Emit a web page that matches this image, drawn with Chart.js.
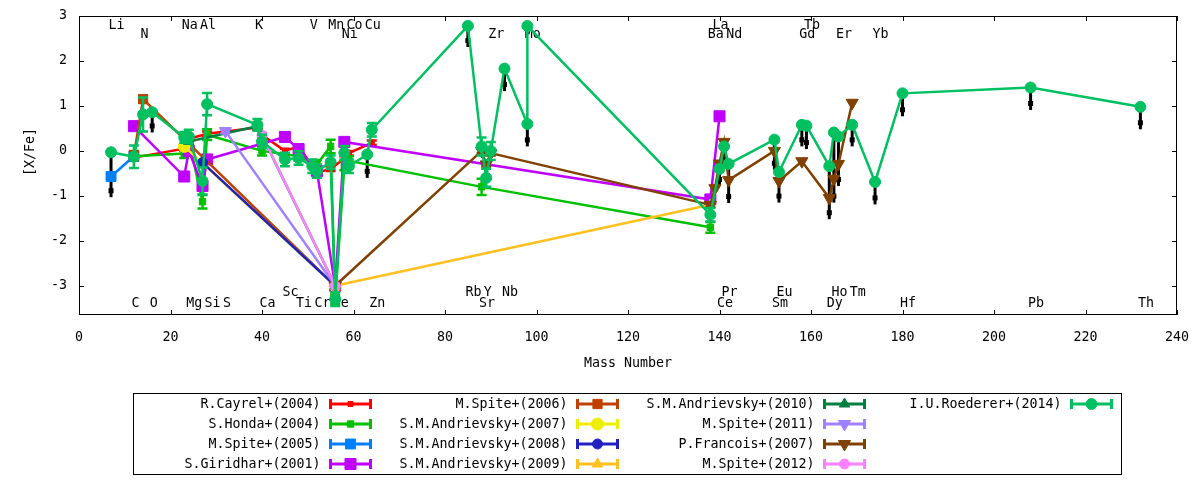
<!DOCTYPE html>
<html><head><meta charset="utf-8">
<script src="https://cdn.jsdelivr.net/npm/chart.js@4.4.1/dist/chart.umd.min.js"></script>
<style>html,body{margin:0;padding:0;background:#fff}canvas{display:block}</style>
</head><body>
<canvas id="c" width="1200" height="480"></canvas>
<script>
// ---------- DATA ----------
const xTicks = [0,20,40,60,80,100,120,140,160,180,200,220,240];
const yTicks = [-3,-2,-1,0,1,2,3];
const elementNames = ['Li','C','N','O','Na','Mg','Al','Si','S','K','Ca','Sc','Ti','V','Cr','Mn','Fe','Ni','Co','Cu','Zn','Rb','Sr','Y','Zr','Nb','Mo','Ba','La','Ce','Pr','Nd','Sm','Eu','Gd','Tb','Dy','Ho','Er','Tm','Yb','Hf','Pb','Th'];
const elementMass  = [7,12,14,16,23,24,27,28,32,39,40,45,48,51,52,55,56,58,59,63,64,85,88,89,90,93,98,138,139,140,141,142,152,153,158,159,164,165,166,169,174,180,208,232];

// each point: [mass number, [X/Fe], error]
const cayrel2004 = [[12,-0.15,0.05],[23,0.05,0.05],[24,0.27,0.05],[28,0.38,0.05],[39,0.52,0.05],[40,0.35,0.05],[45,0.0,0.05],[48,0.1,0.05],[52,-0.48,0.05],[55,-0.4,0.05],[58,-0.17,0.05],[59,-0.05,0.05],[64,0.18,0.05]];
const honda2004 = [[12,-0.12,0.1],[23,-0.06,0.1],[24,0.25,0.1],[27,-1.13,0.15],[28,0.36,0.12],[40,0.0,0.1],[48,-0.12,0.1],[52,-0.3,0.1],[55,0.1,0.15],[56,-3.3,0.1],[58,-0.33,0.1],[59,-0.22,0.1],[88,-0.8,0.18],[138,-1.7,0.12]];
const spite2005 = [[7,-0.57,0.05],[12,-0.12,0.05]];
const giridhar2001 = [[12,0.55,0],[23,-0.57,0],[24,0.0,0],[27,-0.78,0],[28,-0.19,0],[45,0.31,0],[48,0.04,0],[52,-0.45,0],[56,-3.0,0],[58,0.2,0],[138,-1.08,0],[140,0.77,0]];
const spite2006 = [[12,-0.1,0.1],[14,1.15,0.08],[56,-3.0,0]];
const andrievsky2007 = [[23,0.1,0],[56,-3.0,0]];
const andrievsky2008 = [[27,-0.26,0],[56,-3.0,0]];
const andrievsky2009 = [[56,-3.0,0],[138,-1.2,0]];
const andrievsky2010 = [[24,0.21,0],[39,0.55,0],[56,-3.0,0]];
const spite2011 = [[32,0.44,0.05],[56,-3.0,0]];
const francois2007 = [[56,-3.0,0],[88,0.0,0.05],[89,-0.3,0.05],[90,-0.05,0.05],[138,-1.2,0.05],[139,-0.83,0],[140,-0.28,0],[141,0.2,0],[142,-0.65,0],[152,0.0,0],[153,-0.67,0],[158,-0.23,0],[164,-1.05,0],[165,-0.62,0],[166,-0.29,0],[169,1.07,0]];
const spite2012 = [[40,0.35,0],[56,-3.0,0]];
const roederer2014 = [[7,-0.03,0],[12,-0.13,0.25],[14,0.81,0.38],[16,0.86,0],[23,0.3,0.12],[24,0.32,0.15],[27,-0.67,0.3],[28,1.04,0.25],[39,0.58,0.13],[40,0.21,0.15],[45,-0.19,0.15],[48,-0.16,0.15],[51,-0.34,0.15],[52,-0.45,0.15],[55,-0.25,0.15],[56,-3.3,0.15],[58,-0.04,0.15],[59,-0.34,0.15],[63,-0.08,0],[64,0.47,0.15],[85,2.78,0],[88,0.1,0.2],[89,-0.6,0.2],[90,0.0,0.2],[93,1.83,0],[98,0.6,0],[98,2.78,0],[138,-1.42,0.15],[140,-0.4,0],[141,0.1,0],[142,-0.29,0],[152,0.25,0],[153,-0.47,0],[158,0.58,0],[159,0.56,0],[164,-0.34,0],[165,0.41,0],[166,0.32,0],[169,0.58,0],[174,-0.69,0],[180,1.28,0],[208,1.41,0],[232,0.98,0]];
// Roederer upper-limit markers: [mass, value, drop]
const roedererLimits = [[7,-0.03,1.0],[16,0.86,0.45],[63,-0.08,0.52],[85,2.78,0.47],[93,1.83,0.5],[98,0.6,0.5],[140,-0.4,0.38],[141,0.1,0.33],[142,-0.29,0.87],[152,0.25,0.67],[153,-0.47,0.68],[158,0.58,0.48],[159,0.56,0.52],[164,-0.34,1.18],[165,0.41,1.56],[166,0.32,1.1],[169,0.58,0.48],[174,-0.69,0.5],[180,1.28,0.51],[208,1.41,0.5],[232,0.98,0.5]];

const seriesLabels = ['R.Cayrel+(2004)','S.Honda+(2004)','M.Spite+(2005)','S.Giridhar+(2001)','M.Spite+(2006)','S.M.Andrievsky+(2007)','S.M.Andrievsky+(2008)','S.M.Andrievsky+(2009)','S.M.Andrievsky+(2010)','M.Spite+(2011)','P.Francois+(2007)','M.Spite+(2012)','I.U.Roederer+(2014)'];
const seriesData = [cayrel2004,honda2004,spite2005,giridhar2001,spite2006,andrievsky2007,andrievsky2008,andrievsky2009,andrievsky2010,spite2011,francois2007,spite2012,roederer2014];

// ---------- STYLE ----------
const colors = ['#ff0000','#00c000','#0080ff','#c000ff','#c04000','#eeee00','#2020c0','#ffc020','#008040','#a080ff','#804000','#ff80ff','#00c060'];
const markers = [['rect',3.5,0],['rect',4.5,0],['rect',7,0],['rect',7.8,0],['rect',6.5,0],['circle',6,0],['circle',5,0],['triangle',6,0],['triangle',6,0],['triangle',7,180],['triangle',7,180],['circle',5,0],['circle',5.5,0]];
const FAM = "'DejaVu Sans Mono', monospace";
const FS = 13.3;
const rowTop1 = ['Li','Na','Al','K','V','Mn','Co','Cu','La','Tb'];
const rowTop2 = ['N','Ni','Zr','Mo','Ba','Nd','Gd','Er','Yb'];
const rowBot2 = ['Sc','Rb','Y','Nb','Pr','Eu','Ho','Tm'];

const datasets = seriesData.map((d,i)=>({
  label: seriesLabels[i],
  data: d.map(p=>({x:p[0], y:p[1]})),
  errs: d.map(p=>p[2]),
  showLine: true,
  borderColor: colors[i],
  backgroundColor: colors[i],
  pointBackgroundColor: colors[i],
  pointBorderColor: colors[i],
  borderWidth: 2.5,
  pointBorderWidth: 1,
  pointStyle: markers[i][0],
  pointRadius: markers[i][1],
  pointRotation: markers[i][2],
  tension: 0,
  order: -i
}));

function drawMarker(ctx, style, r, rot, x, y){
  ctx.beginPath();
  if (style==='rect'){ const s=Math.SQRT1_2*r; ctx.rect(x-s,y-s,2*s,2*s); }
  else if (style==='circle'){ ctx.arc(x,y,r,0,Math.PI*2); }
  else if (style==='triangle'){
    const a = rot*Math.PI/180;
    for (let k=0;k<3;k++){ const t=a + k*2*Math.PI/3; const px=x+Math.sin(t)*r, py=y-Math.cos(t)*r; if(k===0)ctx.moveTo(px,py); else ctx.lineTo(px,py); }
    ctx.closePath();
  }
  ctx.fill(); ctx.stroke();
}

const gp = {
  id:'gp',
  beforeDatasetsDraw(chart){
    const {ctx, scales:{x,y}} = chart;
    ctx.save();
    ctx.font = FS+'px '+FAM; ctx.fillStyle='#000'; ctx.textAlign='left'; ctx.textBaseline='middle';
    elementNames.forEach((n,i)=>{
      let yy;
      if (rowTop1.includes(n)) yy = y.top+10; else if (rowTop2.includes(n)) yy = y.top+18.5;
      else if (rowBot2.includes(n)) yy = y.bottom-22.5; else yy = y.bottom-11;
      ctx.fillText(n, x.getPixelForValue(elementMass[i])-2.5, yy);
    });
    // upper-limit bars
    ctx.strokeStyle='#000'; ctx.lineWidth=3;
    roedererLimits.forEach(p=>{
      const px=x.getPixelForValue(p[0]), y0=y.getPixelForValue(p[1]), y1=y.getPixelForValue(p[1]-p[2]);
      ctx.beginPath(); ctx.moveTo(px,y0); ctx.lineTo(px,y1); ctx.stroke();
      ctx.fillRect(px-2.5, y1-9, 5, 5);
    });
    ctx.restore();
  },
  beforeDatasetDraw(chart, args){
    const ds = chart.data.datasets[args.index];
    const {ctx, scales:{x,y}} = chart;
    ctx.save(); ctx.strokeStyle=ds.borderColor; ctx.lineWidth=2.5;
    ds.data.forEach((p,j)=>{
      const e=ds.errs[j]; if(!e) return;
      const px=x.getPixelForValue(p.x), ya=y.getPixelForValue(p.y+e), yb=y.getPixelForValue(p.y-e);
      ctx.beginPath(); ctx.moveTo(px,ya); ctx.lineTo(px,yb);
      ctx.moveTo(px-5,ya); ctx.lineTo(px+5,ya); ctx.moveTo(px-5,yb); ctx.lineTo(px+5,yb); ctx.stroke();
    });
    ctx.restore();
  },
  afterDraw(chart){
    const {ctx, chartArea:a, scales:{x,y}} = chart;
    ctx.save();
    ctx.strokeStyle='#000'; ctx.lineWidth=1;
    ctx.strokeRect(Math.round(a.left)+0.5, Math.round(a.top)+0.5, Math.round(a.right-a.left)-1, Math.round(a.bottom-a.top)-1);
    ctx.beginPath();
    xTicks.forEach(v=>{ const px=Math.round(x.getPixelForValue(v))+0.5; ctx.moveTo(px,a.bottom); ctx.lineTo(px,a.bottom-5); ctx.moveTo(px,a.top); ctx.lineTo(px,a.top+5); });
    yTicks.forEach(v=>{ const py=Math.round(y.getPixelForValue(v))+0.5; ctx.moveTo(a.left,py); ctx.lineTo(a.left+5,py); ctx.moveTo(a.right,py); ctx.lineTo(a.right-5,py); });
    ctx.stroke();
    // axis titles
    ctx.fillStyle='#000'; ctx.font=FS+'px '+FAM; ctx.textAlign='center'; ctx.textBaseline='middle';
    ctx.fillText('Mass Number', (a.left+a.right)/2, 364);
    ctx.save(); ctx.translate(31, 152); ctx.rotate(-Math.PI/2); ctx.fillText('[X/Fe]',0,0); ctx.restore();
    // legend
    ctx.strokeRect(133.5, 393.5, 988, 81);
    chart.data.datasets.forEach((ds,i)=>{
      const col=Math.floor(i/4), row=i%4;
      const sx=329+col*247, sy=404+row*20, sl=43;
      ctx.fillStyle='#000'; ctx.textAlign='right'; ctx.fillText(ds.label, sx-8.5, sy+1);
      ctx.strokeStyle=ds.borderColor; ctx.fillStyle=ds.borderColor; ctx.lineWidth=3;
      ctx.beginPath(); ctx.moveTo(sx,sy); ctx.lineTo(sx+sl,sy);
      ctx.moveTo(sx+1.5,sy-5); ctx.lineTo(sx+1.5,sy+5); ctx.moveTo(sx+sl-1.5,sy-5); ctx.lineTo(sx+sl-1.5,sy+5); ctx.stroke();
      ctx.lineWidth=1;
      drawMarker(ctx, ds.pointStyle, ds.pointRadius, ds.pointRotation, sx+sl/2, sy);
    });
    ctx.restore();
  }
};

new Chart(document.getElementById('c'), {
  type:'scatter',
  data:{datasets},
  plugins:[gp],
  options:{
    responsive:false, animation:false, devicePixelRatio:1,
    layout:{padding:{left:0,right:23,top:16,bottom:125}},
    plugins:{legend:{display:false}, tooltip:{enabled:false}},
    scales:{
      x:{type:'linear', min:0, max:240,
        afterBuildTicks:s=>{s.ticks=xTicks.map(v=>({value:v}));},
        afterFit:s=>{s.height=40; s.paddingLeft=0; s.paddingRight=0;},
        grid:{display:false, drawTicks:false}, border:{display:false},
        ticks:{color:'#000', font:{family:FAM, size:FS}, padding:15, maxRotation:0, autoSkip:false}},
      y:{type:'linear', min:-3.65, max:3,
        afterBuildTicks:s=>{s.ticks=yTicks.map(v=>({value:v}));},
        afterFit:s=>{s.width=79; s.paddingTop=0; s.paddingBottom=0;},
        grid:{display:false, drawTicks:false}, border:{display:false},
        ticks:{color:'#000', font:{family:FAM, size:FS}, padding:12, autoSkip:false}}
    }
  }
});
</script>
</body></html>
